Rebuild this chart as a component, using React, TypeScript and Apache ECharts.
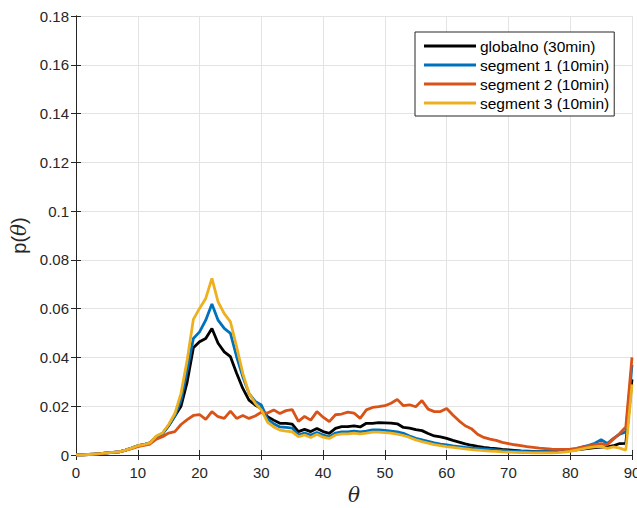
import React, { useEffect, useRef } from "react";
import * as echarts from "echarts";

const angles: number[] = Array.from({ length: 91 }, (_, i) => i);

const seriesNames = ["globalno (30min)", "segment 1 (10min)", "segment 2 (10min)", "segment 3 (10min)"];
const seriesColors = ["#000000", "#0072BD", "#D95319", "#EDB120"];

const globalno = [
  0, 0, 0.0002, 0.0004, 0.0006, 0.0009, 0.0011, 0.0013, 0.002, 0.0028, 0.0038, 0.0043, 0.005,
  0.0075, 0.0088, 0.012, 0.016, 0.02, 0.03,
  0.044, 0.0464, 0.0478, 0.0519, 0.0458, 0.0423, 0.0403, 0.0335, 0.0273, 0.0225, 0.0205,
  0.019, 0.0157, 0.0143, 0.013, 0.013, 0.0127, 0.0096, 0.0105, 0.0096, 0.0109, 0.0096, 0.0089, 0.0109, 0.0116, 0.0116, 0.0119, 0.0115, 0.013, 0.013, 0.0133, 0.0132,
  0.0131, 0.0128, 0.0113, 0.011, 0.0104, 0.01, 0.0088, 0.0078, 0.0074, 0.0068, 0.006, 0.0053, 0.0046, 0.004, 0.0035, 0.0031, 0.0028, 0.0026, 0.0023, 0.0021,
  0.0019, 0.0017, 0.0016, 0.0015, 0.0014, 0.0014, 0.0014, 0.0015, 0.0017, 0.0019, 0.0021, 0.0024, 0.0027, 0.003, 0.0032, 0.0033, 0.0038, 0.0047, 0.0048, 0.031,
];

const segment1 = [
  0, 0, 0.0002, 0.0004, 0.0006, 0.0009, 0.0011, 0.0013, 0.002, 0.0028, 0.0038, 0.0043, 0.005,
  0.0075, 0.0088, 0.012, 0.016, 0.0225, 0.0348,
  0.0478, 0.0505, 0.0553, 0.0619, 0.0553, 0.0519, 0.0499, 0.0403, 0.0321, 0.0253, 0.022,
  0.0205, 0.0148, 0.0128, 0.0115, 0.0113, 0.011, 0.0082, 0.009, 0.0082, 0.0092, 0.0082, 0.0074, 0.009, 0.0095, 0.0095, 0.0098, 0.0095, 0.0098, 0.0103, 0.0103, 0.0101,
  0.0098, 0.0095, 0.0089, 0.0078, 0.0068, 0.0062, 0.0056, 0.005, 0.0045, 0.0041, 0.0037, 0.0034, 0.0031, 0.0029, 0.0027, 0.0025, 0.0023, 0.0021, 0.0019, 0.0017,
  0.0016, 0.0015, 0.0014, 0.0014, 0.0014, 0.0014, 0.0014, 0.0015, 0.0017, 0.002, 0.0026, 0.0033, 0.004, 0.0048, 0.0063, 0.0047, 0.0068, 0.0085, 0.0095, 0.037,
];

const segment2 = [
  0, 0, 0.0002, 0.0004, 0.0006, 0.0009, 0.0011, 0.0013, 0.0019, 0.0026, 0.0034, 0.0039, 0.0045,
  0.0065, 0.0075, 0.009, 0.0096, 0.0125, 0.0145,
  0.0162, 0.0166, 0.0146, 0.0178, 0.0157, 0.015, 0.018, 0.015, 0.0162, 0.015, 0.016,
  0.0175, 0.0172, 0.0185, 0.017, 0.0182, 0.0186, 0.0138, 0.0158, 0.0143, 0.0178, 0.0155, 0.0137, 0.0165, 0.0168, 0.0176, 0.0172, 0.015, 0.0185, 0.0195, 0.0198, 0.0202,
  0.0212, 0.0228, 0.0202, 0.0206, 0.0198, 0.0223, 0.0188, 0.0178, 0.0178, 0.0191, 0.0164, 0.014, 0.012, 0.0108, 0.0085, 0.0072, 0.0065, 0.006, 0.0052, 0.0047,
  0.0042, 0.0038, 0.0034, 0.0031, 0.0028, 0.0026, 0.0024, 0.0023, 0.0023, 0.0024, 0.0027, 0.0032, 0.0037, 0.0043, 0.0047, 0.0042, 0.0065, 0.0088, 0.0115, 0.04,
];

const segment3 = [
  0, 0, 0.0002, 0.0004, 0.0006, 0.0009, 0.0011, 0.0013, 0.002, 0.0028, 0.0038, 0.0043, 0.005,
  0.0078, 0.009, 0.0125, 0.017, 0.0253, 0.039,
  0.0556, 0.0601, 0.0642, 0.0724, 0.0628, 0.058, 0.0546, 0.0444, 0.0335, 0.0253, 0.0212,
  0.0185, 0.0135, 0.0115, 0.0102, 0.0098, 0.0095, 0.0075, 0.0082, 0.0072, 0.0085, 0.0073, 0.0068, 0.0082, 0.0087, 0.0087, 0.009, 0.0087, 0.009, 0.0094, 0.0094, 0.0092,
  0.009, 0.0086, 0.008, 0.0072, 0.0062, 0.0055, 0.0049, 0.0043, 0.0038, 0.0034, 0.0031, 0.0028, 0.0025, 0.0022, 0.002, 0.0018, 0.0016, 0.0015, 0.0013, 0.0012,
  0.0011, 0.001, 0.001, 0.0009, 0.0009, 0.0009, 0.0009, 0.001, 0.0012, 0.0015, 0.002, 0.0025, 0.003, 0.0033, 0.0035, 0.0027, 0.0033, 0.0028, 0.002, 0.029,
];

const allSeries = [globalno, segment1, segment2, segment3];

const FONT = "'Liberation Sans', Arial, sans-serif";
const AXIS_COLOR = "#262626";
const GRID_COLOR = "#e3e3e3";

export default function App() {
  const ref = useRef<HTMLDivElement>(null);
  useEffect(() => {
    if (!ref.current) return;
    const chart = echarts.init(ref.current, undefined, { renderer: "svg" });
    const axisCommon = {
      axisLine: { show: true, lineStyle: { color: AXIS_COLOR, width: 1 } },
      axisTick: { show: true, inside: true, length: 5, lineStyle: { color: AXIS_COLOR } },
    };
    chart.setOption({
      animation: false,
      backgroundColor: "#ffffff",
      textStyle: { fontFamily: FONT },
      grid: { left: 76, right: 5, top: 16, bottom: 53, containLabel: false, outerBoundsMode: "none" },
      legend: {
        show: true,
        orient: "vertical",
        left: 415,
        top: 32,
        data: seriesNames,
        icon: "rect",
        itemWidth: 52,
        itemHeight: 3,
        itemGap: 3,
        padding: [6, 5, 5, 9],
        borderColor: AXIS_COLOR,
        borderWidth: 1,
        backgroundColor: "#ffffff",
        textStyle: { fontSize: 15.5, color: "#000000", fontFamily: FONT, padding: [0, 0, 0, -1] },
      },
      xAxis: [
        {
          type: "value",
          min: 0,
          max: 90,
          interval: 10,
          name: "θ",
          nameLocation: "middle",
          nameGap: 25,
          nameTextStyle: { fontSize: 20, fontStyle: "italic", color: AXIS_COLOR, fontFamily: "'DejaVu Serif', serif" },
          ...axisCommon,
          axisLabel: { fontSize: 15, color: AXIS_COLOR, margin: 10, fontFamily: FONT },
          splitLine: { show: true, lineStyle: { color: GRID_COLOR, width: 1 } },
        },
        {
          type: "value",
          position: "top",
          min: 0,
          max: 90,
          interval: 10,
          ...axisCommon,
          axisLabel: { show: false },
          splitLine: { show: false },
        },
      ],
      yAxis: [
        {
          type: "value",
          min: 0,
          max: 0.18,
          interval: 0.02,
          name: "{a|p(}{b|θ}{a|)}",
          nameLocation: "middle",
          nameGap: 46,
          nameRotate: 90,
          nameTextStyle: {
            rich: {
              a: { fontSize: 20, color: AXIS_COLOR, fontFamily: FONT },
              b: { fontSize: 20, color: AXIS_COLOR, fontStyle: "italic", fontFamily: "'DejaVu Serif', serif" },
            },
          },
          ...axisCommon,
          axisLabel: {
            fontSize: 15,
            color: AXIS_COLOR,
            margin: 7,
            fontFamily: FONT,
            formatter: (v: number) => String(Math.round(v * 100) / 100),
          },
          splitLine: { show: true, lineStyle: { color: GRID_COLOR, width: 1 } },
        },
        {
          type: "value",
          position: "right",
          min: 0,
          max: 0.18,
          interval: 0.02,
          ...axisCommon,
          axisLabel: { show: false },
          splitLine: { show: false },
        },
      ],
      series: allSeries.map((vals, i) => ({
        name: seriesNames[i],
        type: "line",
        xAxisIndex: 0,
        yAxisIndex: 0,
        data: vals.map((v, k) => [angles[k], v]),
        symbol: "none",
        showSymbol: false,
        color: seriesColors[i],
        lineStyle: { color: seriesColors[i], width: 2.8 },
        z: 2 + i,
      })),
    });
    return () => chart.dispose();
  }, []);
  return (
    <div
      ref={ref}
      style={{ position: "fixed", left: 0, top: 0, width: 637, height: 508 }}
    />
  );
}
